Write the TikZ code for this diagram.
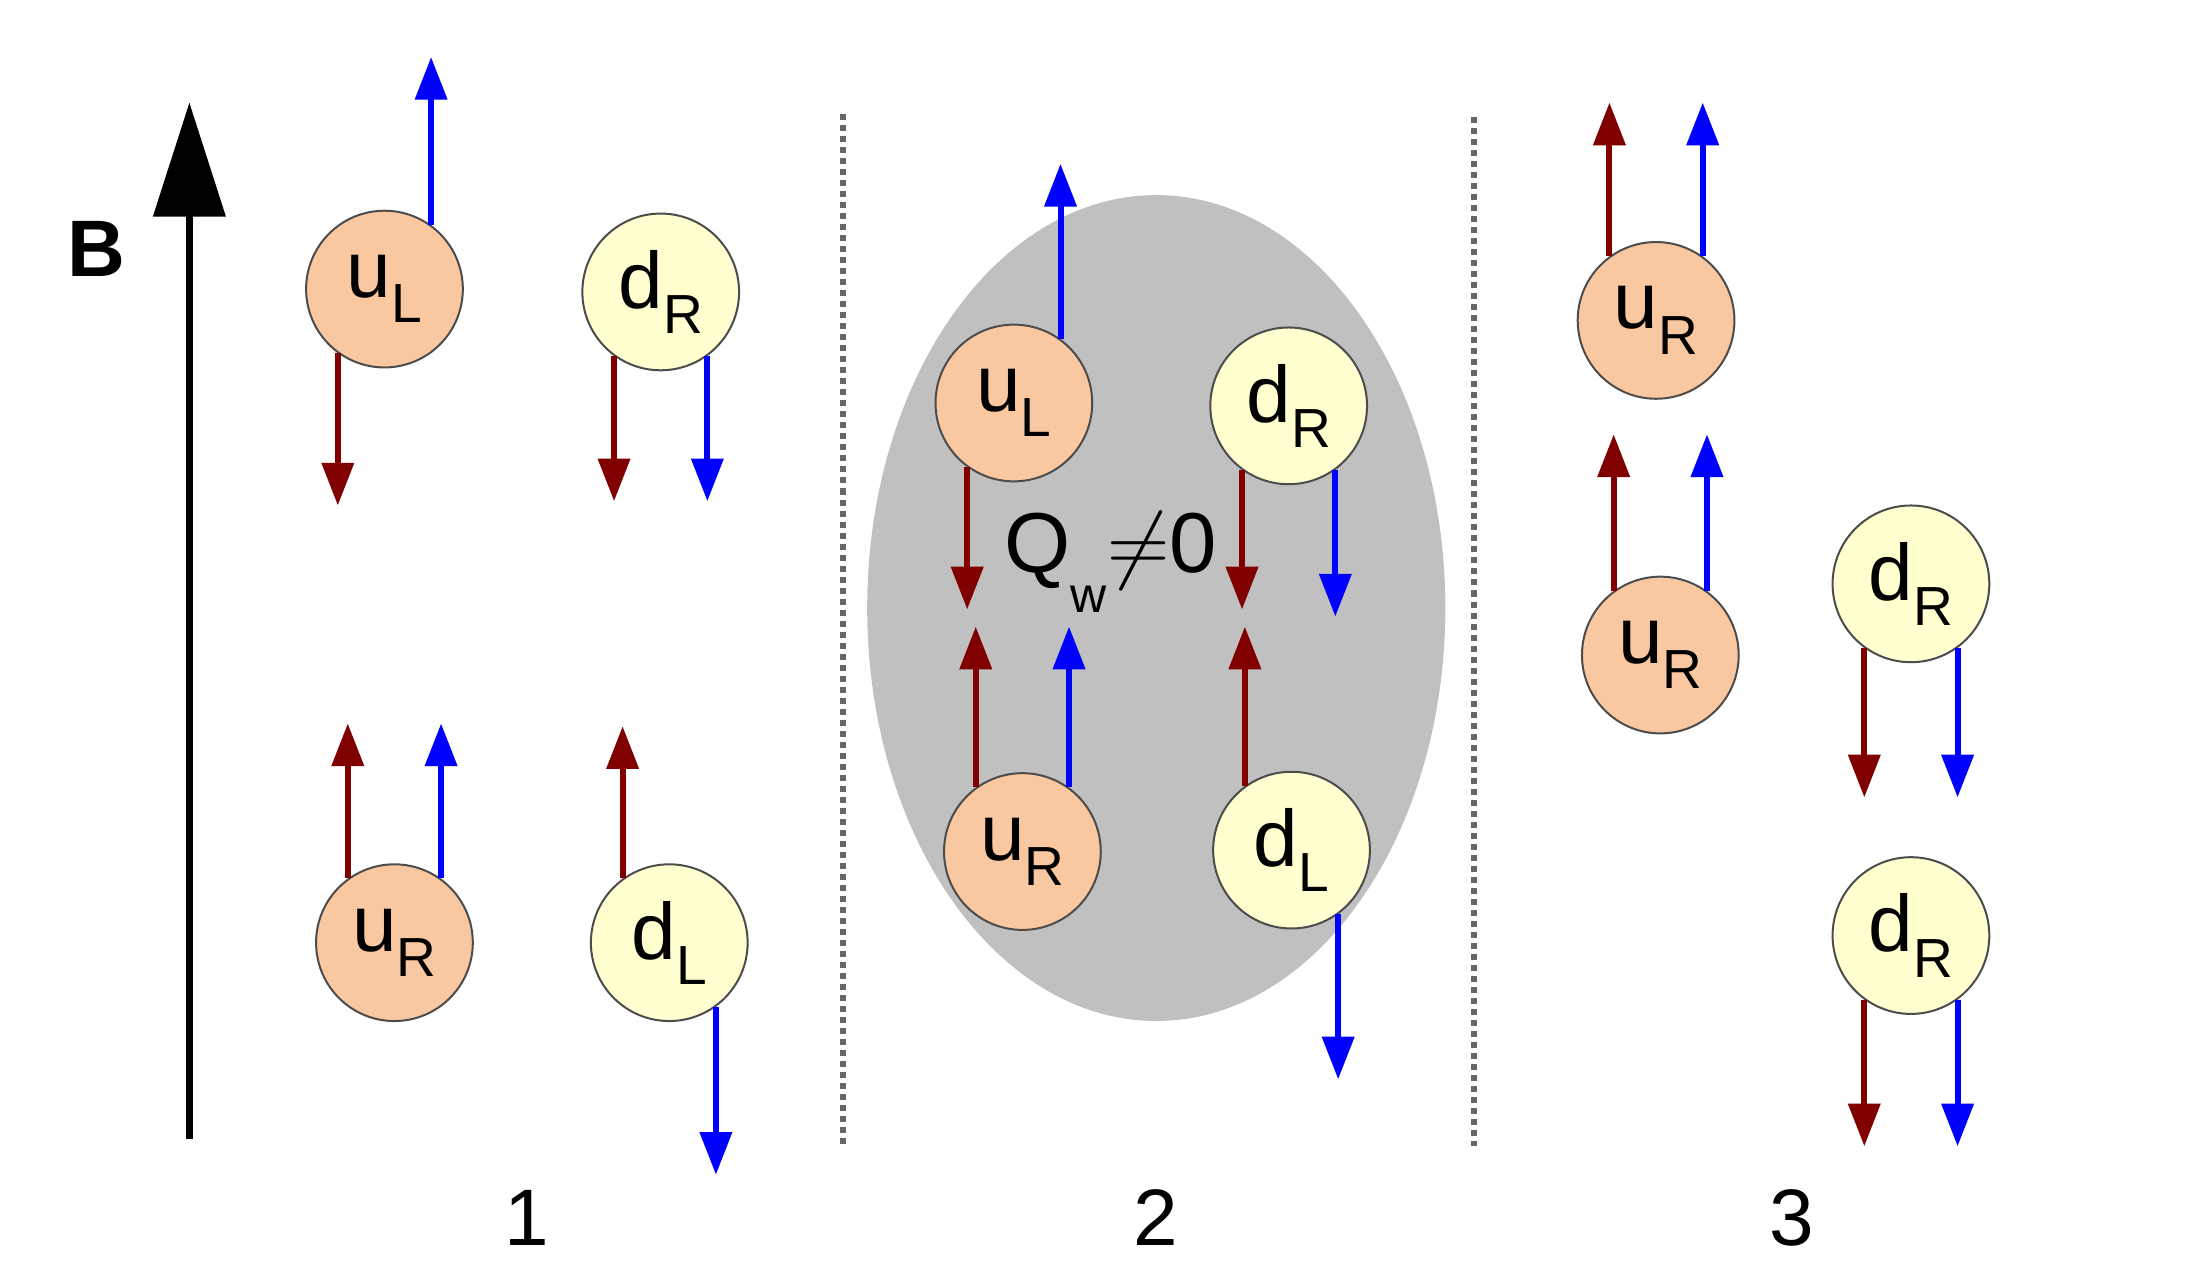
\documentclass[tikz,border=0pt]{standalone}
\usepackage{fontspec}
\setmainfont{Liberation Sans}
\usetikzlibrary{arrows.meta}
\definecolor{spinred}{RGB}{128,0,0}
\definecolor{spinblue}{RGB}{0,0,255}
\definecolor{uquark}{RGB}{250,200,160}
\definecolor{dquark}{RGB}{255,255,208}
\definecolor{wall}{RGB}{192,192,192}
\tikzset{
  quark/.style={circle, draw=black!70, thin, minimum size=1.1cm, inner sep=0pt, font=\fontsize{16}{16}\selectfont},
  up/.style={quark, fill=uquark},
  down/.style={quark, fill=dquark},
  spin/.style={line width=1.2pt, -{Triangle[length=0.3cm,width=0.22cm]}},
  divider/.style={densely dotted, line width=1.2pt, black!60},
  label/.style={font=\fontsize{16}{16}\selectfont}
}
\newcommand{\qk}[2]{#1\raisebox{-0.6ex}{\fontsize{11}{11}\selectfont #2}}
% spin arrow from a point of a quark to a given height
\newcommand{\spinarrow}[4]{\draw[spin,#3] (#1.#2) -- (#1.#2 |- 0,#4);}
\begin{document}
\begin{tikzpicture}[x=0.01cm, y=-0.01cm]
\useasboundingbox (0,0) rectangle (1545,893);

% field
\coordinate (Bfoot) at (133,800);
\coordinate (Btip) at (133,72);
\draw[line width=1.3pt, -{Triangle[length=0.8cm,width=0.5cm]}] (Bfoot) -- (Btip);
\node[font=\fontsize{16}{16}\selectfont\bfseries] (B) at (68,175) {B};

% dividers
\coordinate (div1a) at (592,80);
\coordinate (div1b) at (592,805);
\coordinate (div2a) at (1035,82);
\coordinate (div2b) at (1035,805);
\draw[divider] (div1a) -- (div1b);
\draw[divider] (div2a) -- (div2b);

% domain wall
\fill[wall] (812,427) ellipse [x radius=203, y radius=290];
\node[label, font=\fontsize{17}{17}\selectfont] (Q) at (780,395) {Q\raisebox{-0.9ex}{\fontsize{10}{10}\selectfont w}$\neq$0};

% column 1
\node[up] (uL1) at (270,203) {\qk{u}{L}};
\node[down] (dR1) at (464,205) {\qk{d}{R}};
\node[up] (uR1) at (277,662) {\qk{u}{R}};
\node[down] (dL1) at (470,662) {\qk{d}{L}};
\spinarrow{uL1}{54}{spinblue}{40}
\spinarrow{uL1}{234}{spinred}{355}
\spinarrow{dR1}{234}{spinred}{352}
\spinarrow{dR1}{306}{spinblue}{352}
\spinarrow{uR1}{126}{spinred}{508}
\spinarrow{uR1}{54}{spinblue}{508}
\spinarrow{dL1}{126}{spinred}{510}
\spinarrow{dL1}{306}{spinblue}{825}

% column 2
\node[up] (uL2) at (712,283) {\qk{u}{L}};
\node[down] (dR2) at (905,285) {\qk{d}{R}};
\node[up] (uR2) at (718,598) {\qk{u}{R}};
\node[down] (dL2) at (907,597) {\qk{d}{L}};
\spinarrow{uL2}{54}{spinblue}{115}
\spinarrow{uL2}{234}{spinred}{428}
\spinarrow{dR2}{234}{spinred}{428}
\spinarrow{dR2}{306}{spinblue}{433}
\spinarrow{uR2}{126}{spinred}{440}
\spinarrow{uR2}{54}{spinblue}{440}
\spinarrow{dL2}{126}{spinred}{440}
\spinarrow{dL2}{306}{spinblue}{758}

% column 3
\node[up] (uRa) at (1163,225) {\qk{u}{R}};
\node[up] (uRb) at (1166,460) {\qk{u}{R}};
\node[down] (dRa) at (1342,410) {\qk{d}{R}};
\node[down] (dRb) at (1342,657) {\qk{d}{R}};
\spinarrow{uRa}{126}{spinred}{72}
\spinarrow{uRa}{54}{spinblue}{72}
\spinarrow{uRb}{126}{spinred}{305}
\spinarrow{uRb}{54}{spinblue}{305}
\spinarrow{dRa}{234}{spinred}{560}
\spinarrow{dRa}{306}{spinblue}{560}
\spinarrow{dRb}{234}{spinred}{805}
\spinarrow{dRb}{306}{spinblue}{805}

% stages
\node[label] (one) at (370,855) {1};
\node[label] (two) at (812,855) {2};
\node[label] (three) at (1258,855) {3};
\end{tikzpicture}
\end{document}
